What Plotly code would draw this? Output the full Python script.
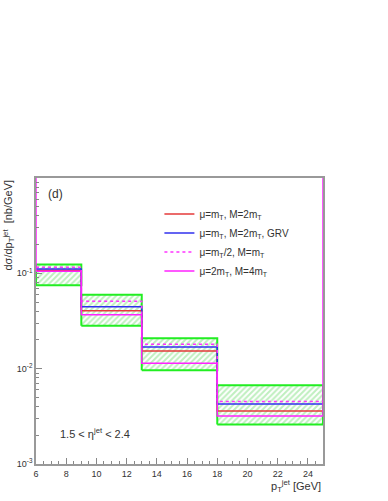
import plotly.graph_objects as go

# bin edges in pT^jet [GeV]
edges = [6, 9, 13, 18, 25]
# uncertainty band (hatched green)
band_hi = [0.1235, 0.0597, 0.0209, 0.0067]
band_lo = [0.0748, 0.0282, 0.0096, 0.0026]
# curves
red_vals = [0.108, 0.0405, 0.01535, 0.0036]
blue_vals = [0.111, 0.0446, 0.0169, 0.00425]
dot_vals = [0.1157, 0.0511, 0.0180, 0.00453]
mag_vals = [0.105, 0.0367, 0.0114, 0.00318]

names = ["μ=m<sub>T</sub>, M=2m<sub>T</sub>",
         "μ=m<sub>T</sub>, M=2m<sub>T</sub>, GRV",
         "μ=m<sub>T</sub>/2, M=m<sub>T</sub>",
         "μ=2m<sub>T</sub>, M=4m<sub>T</sub>"]

xticks = [6, 8, 10, 12, 14, 16, 18, 20, 22, 24]
yticks = [0.001, 0.01, 0.1]
yticktext = ["10<sup>-3</sup>", "10<sup>-2</sup>", "10<sup>-1</sup>"]

FONT = "Liberation Sans, Arial, sans-serif"
fig = go.Figure()

# hatched bands
for i in range(len(band_hi)):
    x0, x1 = edges[i], edges[i + 1]
    fig.add_trace(go.Scatter(
        x=[x0, x1, x1, x0, x0], y=[band_lo[i], band_lo[i], band_hi[i], band_hi[i], band_lo[i]],
        mode="lines", fill="toself", fillcolor="rgba(0,0,0,0)",
        fillpattern=dict(shape="/", fgcolor="#80e080", bgcolor="white", size=4, solidity=0.5),
        line=dict(color="#22ee22", width=2), showlegend=False, hoverinfo="skip"))


def step(vals):
    return edges[:], vals + [vals[-1]]


xs, ys = step(red_vals)
fig.add_trace(go.Scatter(x=xs, y=ys, mode="lines", line=dict(color="#e43a3a", width=1.5, shape="hv"), name=names[0]))
xs, ys = step(blue_vals)
fig.add_trace(go.Scatter(x=xs, y=ys, mode="lines", line=dict(color="#3030ee", width=1.5, shape="hv"), name=names[1]))
xs, ys = step(dot_vals)
fig.add_trace(go.Scatter(x=xs, y=ys, mode="lines", line=dict(color="#ff33ff", width=1.5, shape="hv", dash="dot"), name=names[2]))
# magenta solid histogram with edges going up to the frame top
xs = [edges[0]] + edges[:] + [edges[-1]]
ys = [1.0] + mag_vals + [mag_vals[-1], 1.0]
fig.add_trace(go.Scatter(x=xs, y=ys, mode="lines", line=dict(color="#ff22ff", width=1.5, shape="hv"), name=names[3]))

fig.update_layout(
    width=388, height=501,
    margin=dict(l=36, r=65, t=178, b=37, autoexpand=False),
    paper_bgcolor="white", plot_bgcolor="white",
    font=dict(family=FONT, color="#333333", size=10),
    showlegend=True,
    legend=dict(x=0.43, y=0.925, xanchor="left", yanchor="top", bgcolor="rgba(0,0,0,0)",
                font=dict(size=10, color="#333333"), itemwidth=30, tracegroupgap=0),
    xaxis=dict(range=[6, 25], tickvals=xticks, ticks="inside", ticklen=6, tickcolor="#888888",
               showline=True, linecolor="#999999", linewidth=1.5, mirror=True, showgrid=False,
               zeroline=False, automargin=False, tickfont=dict(size=9, color="#333333"),
               minor=dict(ticks="inside", ticklen=3, dtick=0.5, tickcolor="#888888")),
    yaxis=dict(type="log", range=[-3, 0], tickvals=yticks, ticktext=yticktext, ticks="inside",
               ticklen=6, tickcolor="#888888", showline=True, linecolor="#999999", linewidth=1.5,
               mirror=True, showgrid=False, zeroline=False, automargin=False,
               tickfont=dict(size=9, color="#333333"),
               minor=dict(ticks="inside", ticklen=3, tickcolor="#888888",
                          tickvals=[m * 10 ** e for e in (-3, -2, -1) for m in range(2, 10)])),
)

fig.add_annotation(text="dσ/dp<sub>T</sub><sup>jet</sup>  [nb/GeV]", xref="paper", yref="paper",
                   x=0, y=1, xanchor="right", yanchor="top", xshift=-18, textangle=-90,
                   showarrow=False, font=dict(size=11, color="#333333"))
fig.add_annotation(text="p<sub>T</sub><sup>jet</sup> [GeV]", xref="paper", yref="paper",
                   x=1, y=0, xanchor="right", yanchor="top", yshift=-12,
                   showarrow=False, font=dict(size=11, color="#333333"))
fig.add_annotation(text="(d)", xref="paper", yref="paper", x=0.035, y=0.945, xanchor="left",
                   yanchor="middle", showarrow=False, font=dict(size=12, color="#333333"))
fig.add_annotation(text="1.5 < η<sup>jet</sup> < 2.4", xref="paper", yref="paper", x=0.075, y=0.11,
                   xanchor="left", yanchor="middle", showarrow=False, font=dict(size=11, color="#333333"))

fig.write_html("out.html", config={"displayModeBar": False},
               post_script="document.body.style.margin='0';")
